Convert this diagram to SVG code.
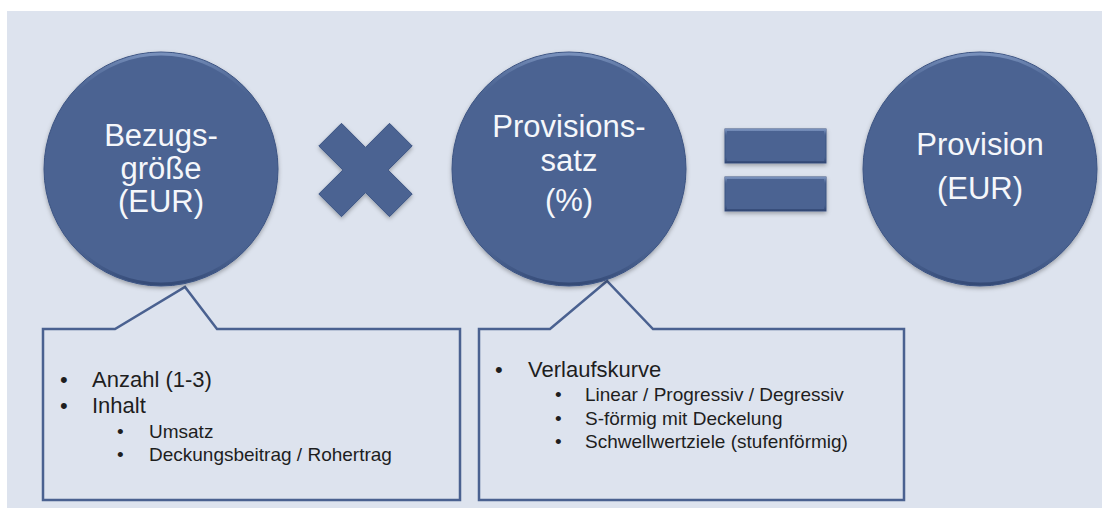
<svg xmlns="http://www.w3.org/2000/svg" width="1106" height="508" viewBox="0 0 1106 508">
  <defs>
    <style>
      .ctext { font-family: "Liberation Sans", Arial, sans-serif; font-size: 31px; fill: #f5f7fb; text-anchor: middle; }
      .l1 { font-family: "Liberation Sans", Arial, sans-serif; font-size: 22px; fill: #1e1e1e; }
      .l2 { font-family: "Liberation Sans", Arial, sans-serif; font-size: 19px; fill: #1e1e1e; }
      .shape { fill: #4b6492; stroke: #3c5382; stroke-width: 1; }
      .bevel { fill: none; stroke: url(#bevelGrad); stroke-width: 3; }
      .callout { fill: #dde3ee; stroke: #4a6190; stroke-width: 2.5; stroke-linejoin: miter; }
    </style>
    <linearGradient id="bevelGrad" x1="0" y1="0" x2="0" y2="1">
      <stop offset="0" stop-color="#7d95c0" stop-opacity="0.9"/>
      <stop offset="0.2" stop-color="#4b6492" stop-opacity="0"/>
      <stop offset="0.8" stop-color="#4b6492" stop-opacity="0"/>
      <stop offset="1" stop-color="#2f4470" stop-opacity="0.8"/>
    </linearGradient>
    <filter id="shadow" x="-20%" y="-20%" width="140%" height="140%">
      <feDropShadow dx="0" dy="2" stdDeviation="2" flood-color="#000" flood-opacity="0.3"/>
    </filter>
  </defs>

  <rect x="0" y="0" width="1106" height="508" fill="#ffffff"/>
  <rect x="7" y="11" width="1095" height="497" fill="#dde3ee"/>

  <g id="connectors">
    <g id="callout-bezugsgroesse">
      <path class="callout" d="M43,329 L115,329 L185,287 L217,329 L460,329 L460,500 L43,500 Z"/>
      <text class="l1" x="60" y="387">•</text>
      <text class="l1" x="92" y="387">Anzahl (1-3)</text>
      <text class="l1" x="60" y="413">•</text>
      <text class="l1" x="92" y="413">Inhalt</text>
      <text class="l2" x="117" y="438">•</text>
      <text class="l2" x="149" y="438">Umsatz</text>
      <text class="l2" x="117" y="461">•</text>
      <text class="l2" x="149" y="461">Deckungsbeitrag / Rohertrag</text>
    </g>
    <g id="callout-provisionssatz">
      <path class="callout" d="M479,329 L550,329 L607,281 L653,329 L904,329 L904,500 L479,500 Z"/>
      <text class="l1" x="495" y="377">•</text>
      <text class="l1" x="528" y="377">Verlaufskurve</text>
      <text class="l2" x="555" y="401">•</text>
      <text class="l2" x="585" y="401">Linear / Progressiv / Degressiv</text>
      <text class="l2" x="555" y="425">•</text>
      <text class="l2" x="585" y="425">S-förmig mit Deckelung</text>
      <text class="l2" x="555" y="448">•</text>
      <text class="l2" x="585" y="448">Schwellwertziele (stufenförmig)</text>
    </g>
  </g>

  <g id="node-bezugsgroesse">
    <circle class="shape" cx="161" cy="169" r="117" filter="url(#shadow)"/>
    <circle class="bevel" cx="161" cy="169" r="115"/>
    <text class="ctext" x="161" y="146">Bezugs-</text>
    <text class="ctext" x="161" y="179">größe</text>
    <text class="ctext" x="161" y="212">(EUR)</text>
  </g>

  <g id="operator-multiply">
    <polygon class="shape" filter="url(#shadow)" points="365.5,147.4 389.5,123.3 412.2,146 388.1,170 412.2,194 389.5,216.7 365.5,192.6 341.5,216.7 318.8,194 342.9,170 318.8,146 341.5,123.3"/>
  </g>

  <g id="node-provisionssatz">
    <circle class="shape" cx="569" cy="169" r="117" filter="url(#shadow)"/>
    <circle class="bevel" cx="569" cy="169" r="115"/>
    <text class="ctext" x="569" y="137">Provisions-</text>
    <text class="ctext" x="569" y="171">satz</text>
    <text class="ctext" x="569" y="211">(%)</text>
  </g>

  <g id="operator-equals">
    <rect class="shape" filter="url(#shadow)" x="725" y="129" width="101" height="34"/>
    <rect x="726" y="130" width="99" height="32" fill="none" stroke="url(#bevelGrad)" stroke-width="2"/>
    <rect class="shape" filter="url(#shadow)" x="725" y="177" width="101" height="34"/>
    <rect x="726" y="178" width="99" height="32" fill="none" stroke="url(#bevelGrad)" stroke-width="2"/>
  </g>

  <g id="node-provision">
    <circle class="shape" cx="980" cy="169" r="117" filter="url(#shadow)"/>
    <circle class="bevel" cx="980" cy="169" r="115"/>
    <text class="ctext" x="980" y="155">Provision</text>
    <text class="ctext" x="980" y="199">(EUR)</text>
  </g>
</svg>
